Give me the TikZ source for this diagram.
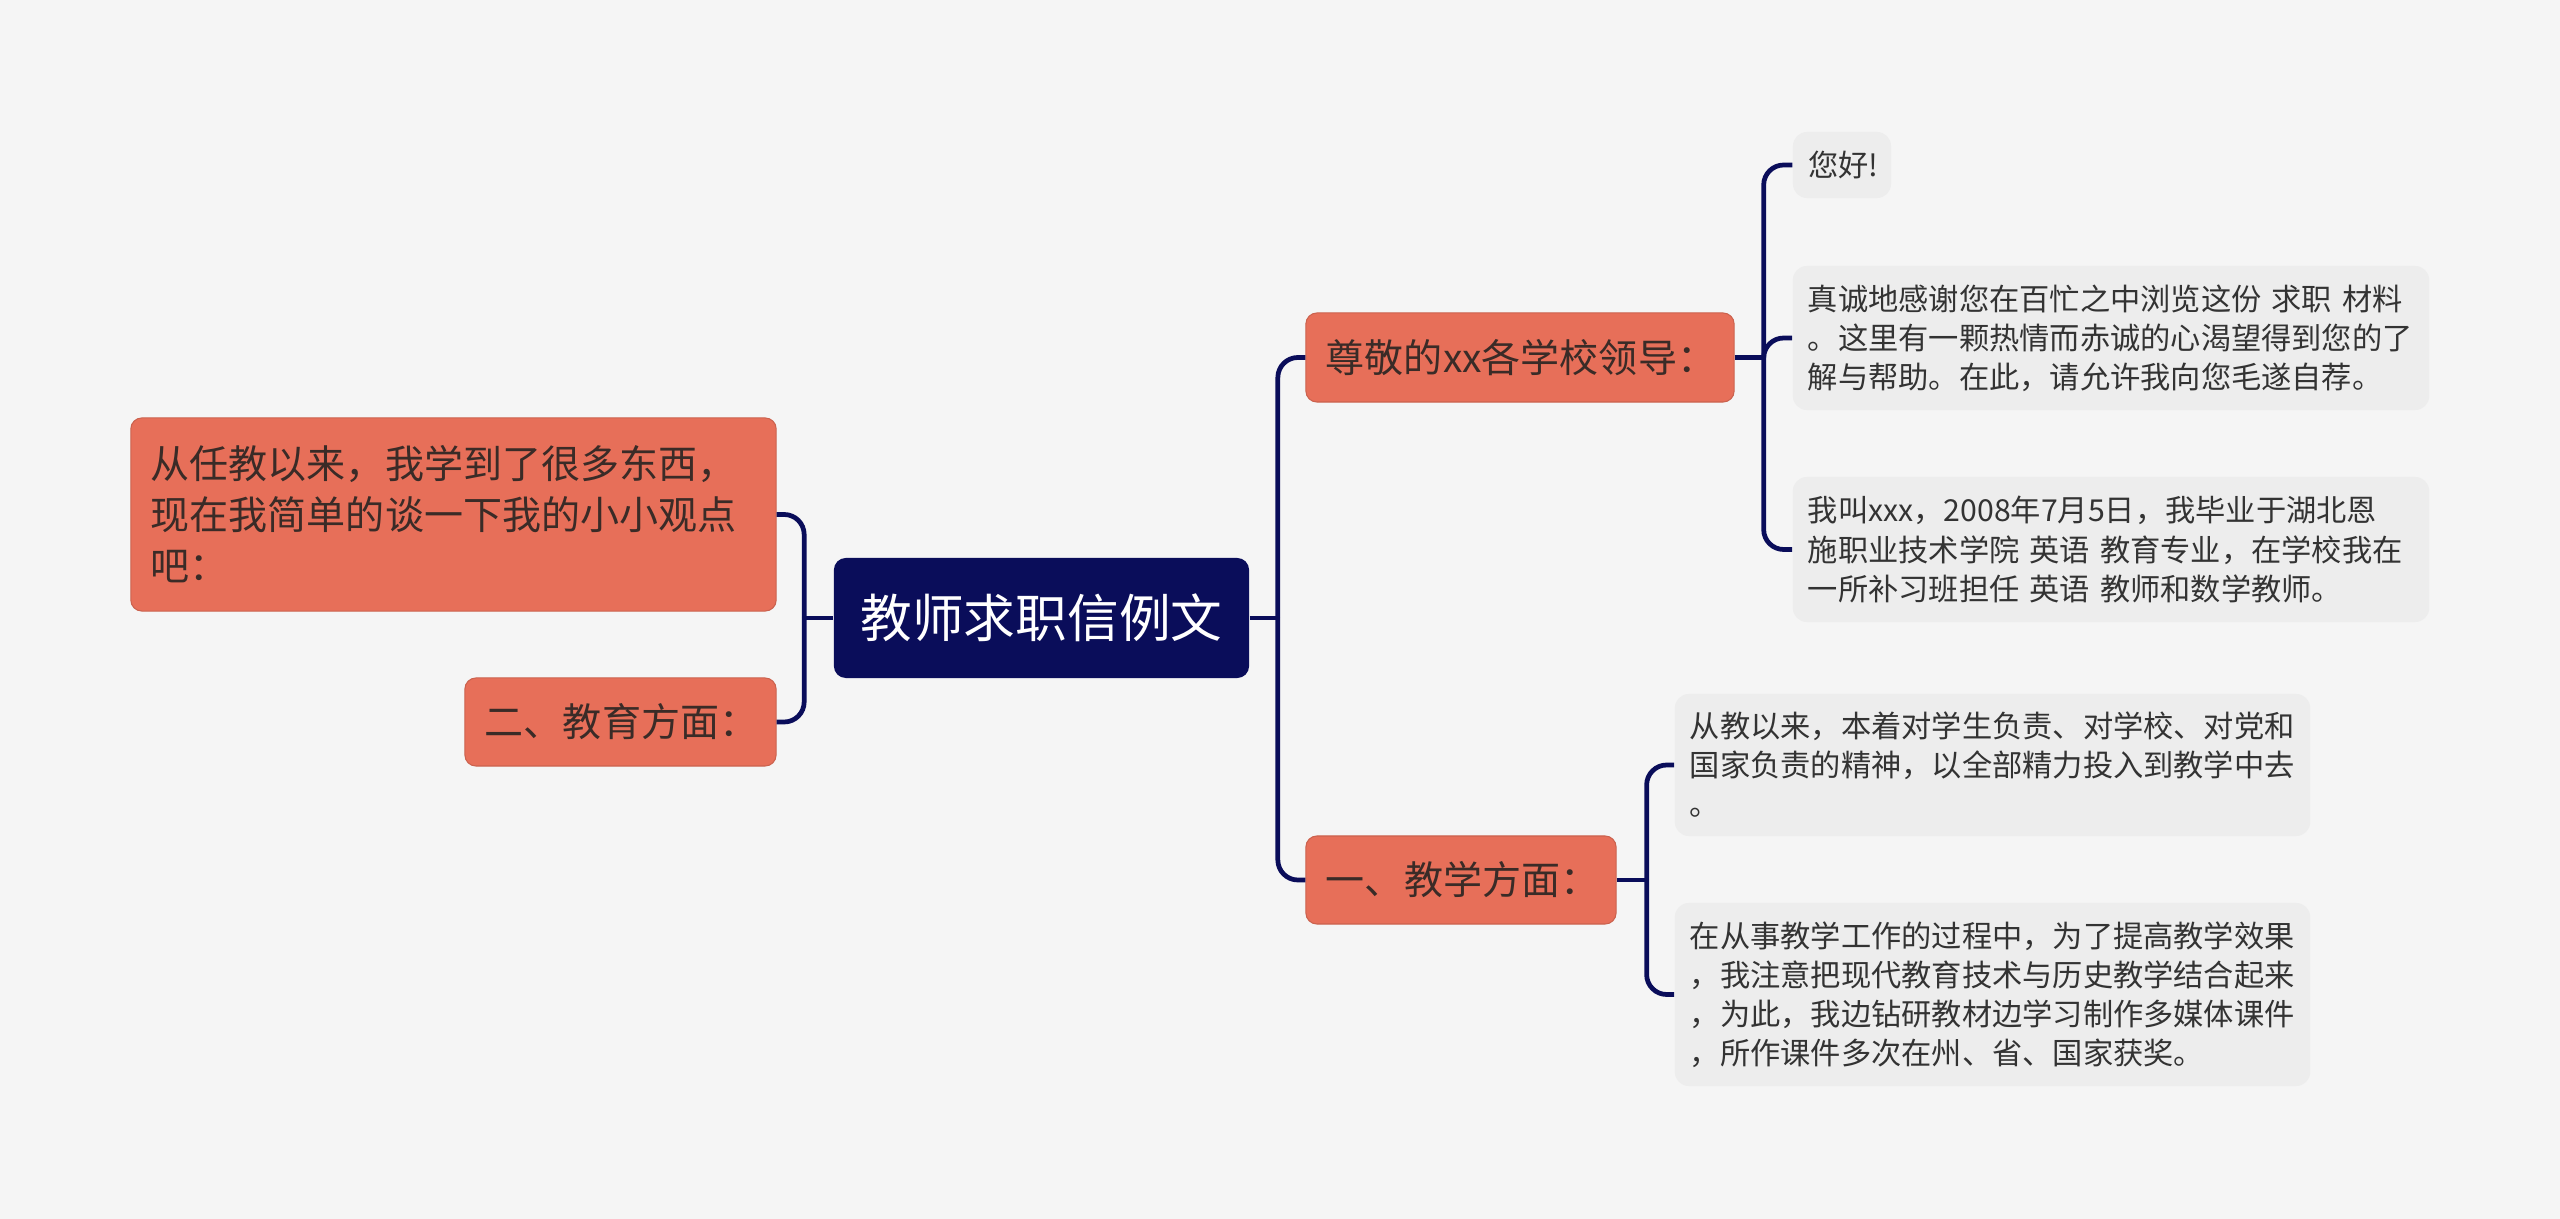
\documentclass[tikz,border=0pt]{standalone}
\usepackage{fontspec}
\setmainfont{Noto Sans CJK SC}
\usetikzlibrary{positioning}
\definecolor{mmbg}{HTML}{F5F5F5}
\definecolor{mmnavy}{HTML}{0A0D5A}
\definecolor{mmorange}{HTML}{E76F59}
\definecolor{mmleaf}{HTML}{EDEDED}
\definecolor{mmtext}{HTML}{333333}
\definecolor{mmbrown}{HTML}{3A2B27}
\tikzset{
  topic/.style  ={fill=mmnavy, text=white, rounded corners=1.2mm, inner sep=0pt,
                  font=\fontsize{14.7pt}{18pt}\selectfont},
  branch/.style ={fill=mmorange, draw=mmorange!88!black, line width=0.3pt,
                  rounded corners=1.1mm, text=mmbrown, align=left,
                  inner xsep=2mm, inner ysep=0pt,
                  font=\fontsize{11.1pt}{14.5pt}\selectfont},
  leaf/.style   ={fill=mmleaf, rounded corners=1.4mm, text=mmtext, align=left,
                  inner xsep=1.5mm, inner ysep=0pt,
                  font=\fontsize{8.6pt}{11.1pt}\selectfont},
}

\begin{document}
\begin{tikzpicture}[x=0.01cm,y=-0.01cm,
      link/.style={draw=mmnavy,line width=1.35pt,rounded corners=2mm}]
    \fill[mmbg] (0,0) rectangle (2560,1219);
    \useasboundingbox (0,0) rectangle (2560,1219);
    % centre and the two sides
    \node[topic,minimum width=4.15cm,minimum height=1.2cm] (root) at (1041.5,618) {教师求职信例文};
    \node[branch,text width=3.88cm,minimum height=0.89cm] (lead) at (1520,357.5) {尊敬的xx各学校领导：};
    \node[branch,text width=2.70cm,minimum height=0.88cm] (teach) at (1461,880) {一、教学方面：};
    \node[branch,text width=6.05cm,minimum height=1.93cm] (gain) at (453.5,514.5)
      {从任教以来，我学到了很多东西，\\现在我简单的谈一下我的小小观点\\吧：};
    \node[branch,text width=2.71cm,minimum height=0.88cm] (edu) at (620.5,722) {二、教育方面：};
    % leaves
    \node[leaf,text width=0.68cm,minimum height=0.66cm] (hello) at (1842,165) {您好!};
    \node[leaf,text width=6.06cm,minimum height=1.44cm] (thanks) at (2111,338)
      {真诚地感谢您在百忙之中浏览这份 求职 材料\\。这里有一颗热情而赤诚的心渴望得到您的了\\解与帮助。在此，请允许我向您毛遂自荐。};
    \node[leaf,text width=6.06cm,minimum height=1.45cm] (intro) at (2111,549.5)
      {我叫xxx，2008年7月5日，我毕业于湖北恩\\施职业技术学院 英语 教育专业，在学校我在\\一所补习班担任 英语 教师和数学教师。};
    \node[leaf,text width=6.05cm,minimum height=1.42cm] (spirit) at (1992.5,765)
      {从教以来，本着对学生负责、对学校、对党和\\国家负责的精神，以全部精力投入到教学中去\\。};
    \node[leaf,text width=6.05cm,minimum height=1.83cm] (method) at (1992.5,994.5)
      {在从事教学工作的过程中，为了提高教学效果\\，我注意把现代教育技术与历史教学结合起来\\，为此，我边钻研教材边学习制作多媒体课件\\，所作课件多次在州、省、国家获奖。};
    % junctions
    \coordinate[right=0.28cm of root.east] (rj);
    \coordinate[left=0.29cm of root.west] (lj);
    \coordinate[right=0.29cm of lead.east] (leadj);
    \coordinate[right=0.30cm of teach.east] (teachj);
    \draw[link] (root.east) -- (rj);
    \draw[link] (rj) |- (lead.west);
    \draw[link] (rj) |- (teach.west);
    \draw[link] (root.west) -- (lj);
    \draw[link] (lj) |- (gain.east);
    \draw[link] (lj) |- (edu.east);
    \draw[link] (lead.east) -- (leadj);
    \foreach \c in {hello,thanks,intro}
      \draw[link] (leadj) |- (\c.west);
    \draw[link] (teach.east) -- (teachj);
    \foreach \c in {spirit,method}
      \draw[link] (teachj) |- (\c.west);
\end{tikzpicture}
\end{document}
